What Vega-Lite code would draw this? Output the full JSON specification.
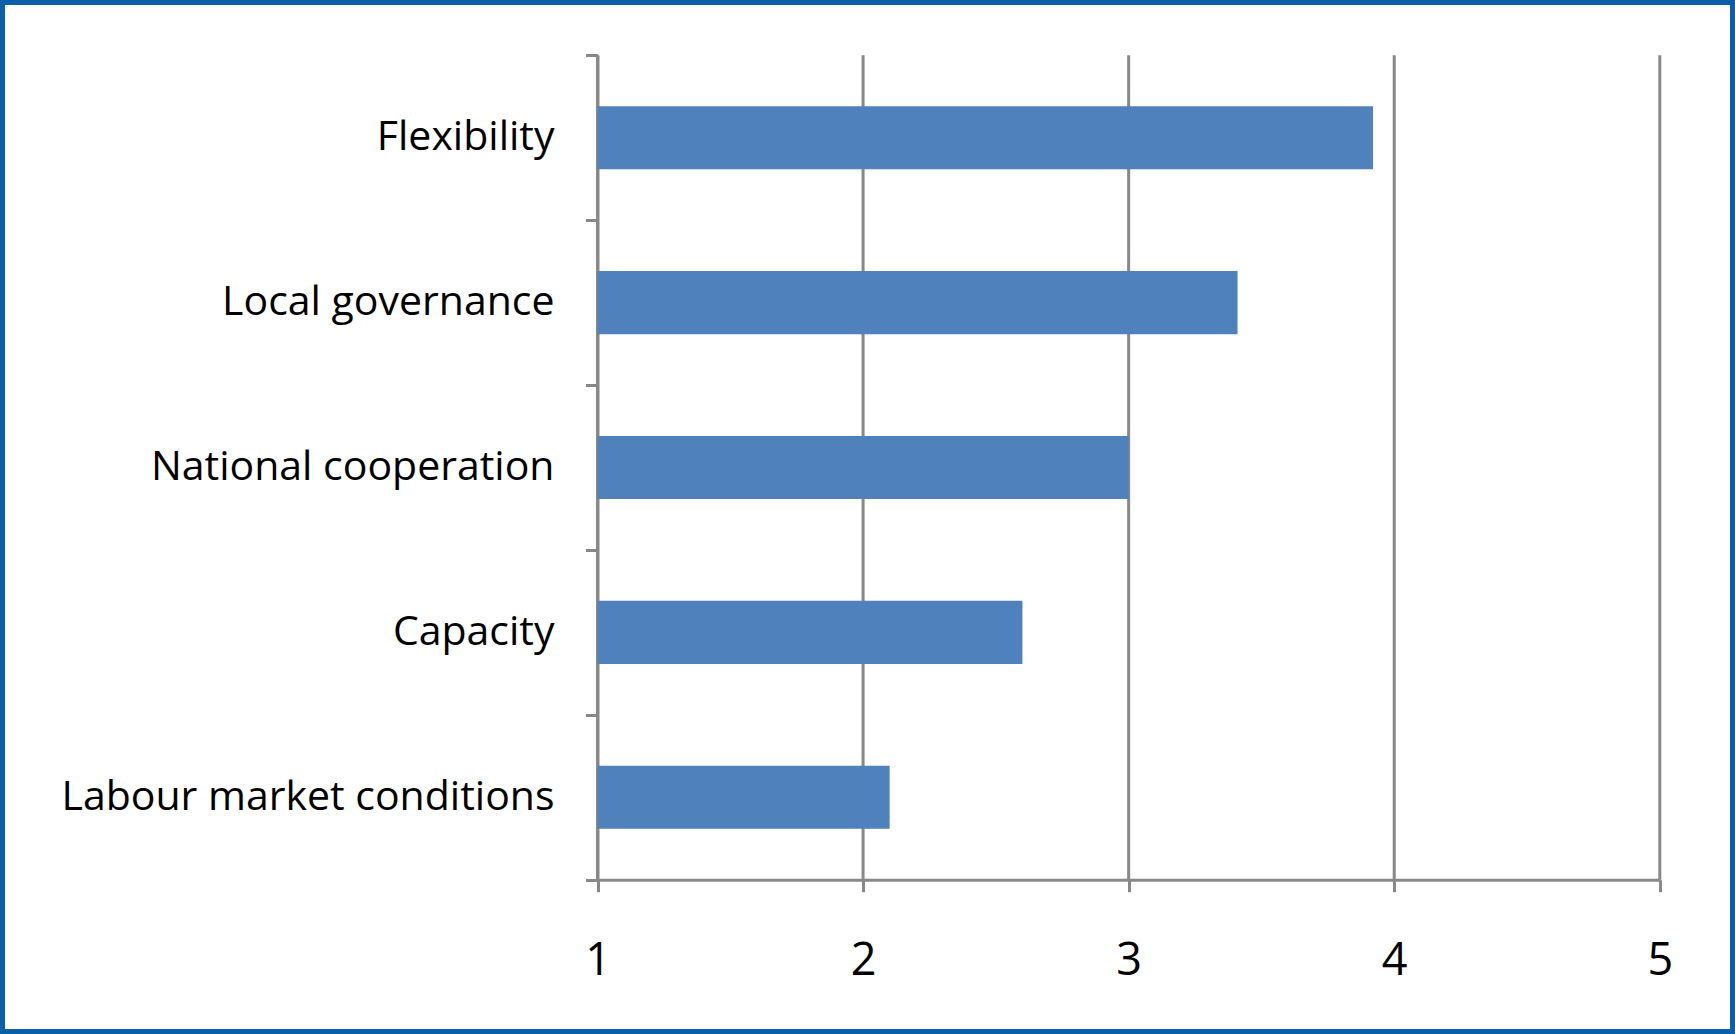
{
  "$schema": "https://vega.github.io/schema/vega-lite/v6.json",
  "width": 1735,
  "height": 1034,
  "autosize": {"type": "none"},
  "padding": 0,
  "background": "white",
  "config": {
    "view": {"stroke": "#0B5FA8", "strokeWidth": 10},
    "font": "Open Sans"
  },
  "layer": [
    {
      "data": {"values": [{"v": 1}, {"v": 2}, {"v": 3}, {"v": 4}, {"v": 5}]},
      "mark": {"type": "rule", "color": "#888888", "strokeWidth": 3},
      "encoding": {
        "x": {"field": "v", "type": "quantitative"},
        "y": {"datum": "Flexibility", "type": "nominal", "bandPosition": 0},
        "y2": {"datum": "Labour market conditions", "bandPosition": 1}
      }
    },
    {
      "data": {
        "values": [
          {"factor": "Flexibility", "score": 3.92},
          {"factor": "Local governance", "score": 3.41},
          {"factor": "National cooperation", "score": 3.0},
          {"factor": "Capacity", "score": 2.6},
          {"factor": "Labour market conditions", "score": 2.1}
        ]
      },
      "mark": {"type": "bar", "color": "#4F81BD", "height": {"band": 0.383}},
      "encoding": {
        "y": {"field": "factor", "type": "nominal", "sort": null},
        "x": {"field": "score", "type": "quantitative"},
        "x2": {"datum": 1}
      }
    }
  ],
  "encoding": {
    "y": {
      "type": "nominal",
      "scale": {
        "domain": ["Flexibility", "Local governance", "National cooperation", "Capacity", "Labour market conditions"],
        "range": [55.3, 879.7],
        "paddingInner": 0,
        "paddingOuter": 0
      },
      "axis": {
        "title": null,
        "orient": "left",
        "offset": -597.5,
        "tickBand": "extent",
        "domainColor": "#888888",
        "domainWidth": 3,
        "tickColor": "#888888",
        "tickWidth": 3,
        "tickSize": 12,
        "labelPadding": 31.5,
        "labelFontSize": 41,
        "labelLimit": 0,
        "labelColor": "#000000",
        "labelFont": "Open Sans",
        "grid": false
      }
    },
    "x": {
      "type": "quantitative",
      "scale": {"domain": [1, 5], "range": [597.5, 1659.8], "zero": false, "nice": false},
      "axis": {
        "title": null,
        "orient": "bottom",
        "offset": -154.3,
        "values": [1, 2, 3, 4, 5],
        "format": "d",
        "domainColor": "#888888",
        "domainWidth": 3,
        "tickColor": "#888888",
        "tickWidth": 3,
        "tickSize": 12,
        "grid": false,
        "labelPadding": 46.5,
        "labelFontSize": 45,
        "labelColor": "#000000",
        "labelFont": "Open Sans",
        "labelFlush": false
      }
    }
  }
}
